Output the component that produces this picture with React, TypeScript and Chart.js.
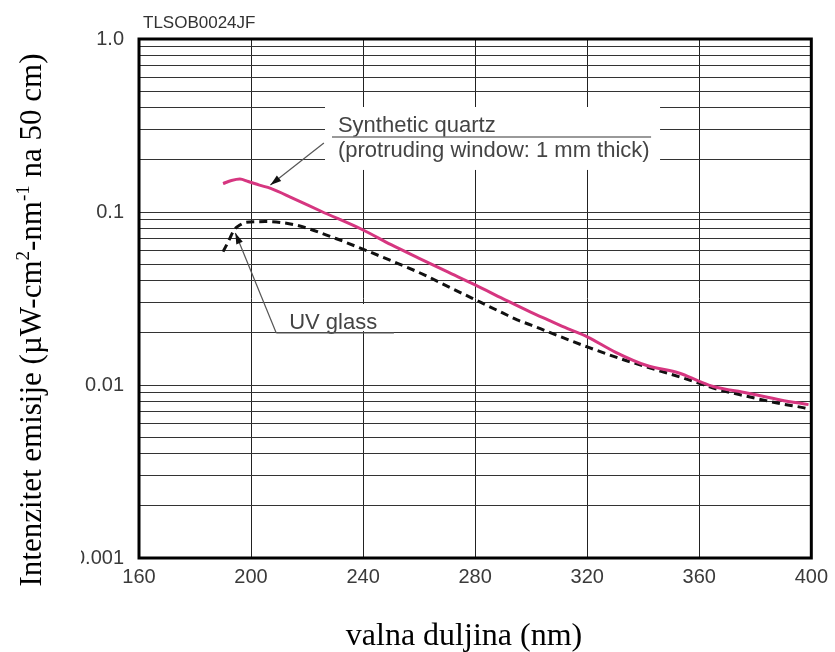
import React, { useEffect, useRef } from 'react';
import { Chart, registerables } from 'chart.js';

Chart.register(...registerables);

// ---- data ----
const quartzNm = [190, 193, 196, 199, 203, 207, 215, 225, 240, 250, 260, 270, 280, 290, 300, 306, 313, 320, 330, 341, 353, 360, 365, 377, 389, 399];
const quartzVal = [0.146, 0.152, 0.155, 0.150, 0.143, 0.137, 0.120, 0.101, 0.0787, 0.0647, 0.054, 0.0452, 0.0379, 0.0315, 0.0263, 0.0238, 0.0212, 0.019, 0.0155, 0.013, 0.0117, 0.0105, 0.0098, 0.009, 0.0082, 0.0077];

const uvNm = [190, 192, 194, 196, 198, 205, 216, 230, 241, 250, 262, 270, 279, 290, 295, 300, 306, 312, 320, 333, 345, 358, 365, 377, 389, 397, 400];
const uvVal = [0.059, 0.068, 0.079, 0.084, 0.087, 0.088, 0.084, 0.0705, 0.060, 0.0523, 0.0432, 0.0373, 0.0317, 0.026, 0.0238, 0.0222, 0.0203, 0.0186, 0.0166, 0.014, 0.0122, 0.0105, 0.0096, 0.0086, 0.0078, 0.0074, 0.0072];

const xMin = 160;
const xMax = 400;
const xStep = 40;
const yTickValues = [0.001, 0.01, 0.1, 1];
const yTickLabels = ['0.001', '0.01', '0.1', '1.0'];

const xTitle = 'valna duljina (nm)';
const yTitleParts: [string, boolean][] = [
  ['Intenzitet emisije (µW-cm', false],
  ['2', true],
  ['-nm', false],
  ['-1', true],
  [' na 50 cm)', false],
];
const codeLabel = 'TLSOB0024JF';
const quartzLabel = ['Synthetic quartz', '(protruding window: 1 mm thick)'];
const uvLabel = 'UV glass';

const SANS = '"Liberation Sans", Arial, Helvetica, sans-serif';
const SERIF = '"Liberation Serif", "Times New Roman", serif';

function allLogTicks(): number[] {
  const out: number[] = [];
  for (let e = -3; e < 0; e++) {
    for (let m = 1; m < 10; m++) out.push(+(m * Math.pow(10, e)).toPrecision(3));
  }
  out.push(1);
  return out;
}

function arrow(ctx: CanvasRenderingContext2D, x1: number, y1: number, x2: number, y2: number) {
  ctx.strokeStyle = '#555';
  ctx.lineWidth = 1.2;
  ctx.beginPath();
  ctx.moveTo(x1, y1);
  ctx.lineTo(x2, y2);
  ctx.stroke();
  const a = Math.atan2(y2 - y1, x2 - x1);
  const L = 11, W = 3.5;
  ctx.fillStyle = '#111';
  ctx.beginPath();
  ctx.moveTo(x2, y2);
  ctx.lineTo(x2 - L * Math.cos(a) + W * Math.sin(a), y2 - L * Math.sin(a) - W * Math.cos(a));
  ctx.lineTo(x2 - L * Math.cos(a) - W * Math.sin(a), y2 - L * Math.sin(a) + W * Math.cos(a));
  ctx.closePath();
  ctx.fill();
}

const decorPlugin = {
  id: 'decor',
  beforeDatasetsDraw(chart: any) {
    const { ctx, scales } = chart;
    const X = (v: number) => scales.x.getPixelForValue(v);
    const Y = (v: number) => scales.y.getPixelForValue(v);
    ctx.save();
    ctx.fillStyle = '#ffffff';
    // white box behind the quartz label
    ctx.fillRect(X(226.4), Y(0.4045), X(346.0) - X(226.4), Y(0.175) - Y(0.4045));
    // white box behind the UV glass label
    ctx.fillRect(X(211.1), Y(0.0294), X(252.6) - X(211.1), Y(0.0205) - Y(0.0294));
    ctx.restore();
  },
  afterDraw(chart: any) {
    const { ctx, scales, chartArea } = chart;
    const X = (v: number) => scales.x.getPixelForValue(v);
    const Y = (v: number) => scales.y.getPixelForValue(v);
    ctx.save();

    // frame
    ctx.strokeStyle = '#000';
    ctx.lineWidth = 3;
    ctx.strokeRect(chartArea.left, chartArea.top, chartArea.right - chartArea.left, chartArea.bottom - chartArea.top);

    // code label
    ctx.fillStyle = '#333';
    ctx.font = `17px ${SANS}`;
    ctx.textAlign = 'left';
    ctx.textBaseline = 'alphabetic';
    ctx.fillText(codeLabel, chartArea.left + 4, chartArea.top - 11);

    // quartz annotation
    ctx.fillStyle = '#444';
    ctx.font = `22px ${SANS}`;
    ctx.fillText(quartzLabel[0], X(231.0), Y(0.290));
    ctx.fillText(quartzLabel[1], X(231.0), Y(0.208));
    ctx.strokeStyle = '#777';
    ctx.lineWidth = 1.5;
    ctx.beginPath();
    ctx.moveTo(X(228.9), Y(0.2714));
    ctx.lineTo(X(342.8), Y(0.2714));
    ctx.stroke();
    arrow(ctx, X(226.0), Y(0.2506), X(206.9), Y(0.1432));

    // UV glass annotation
    ctx.fillStyle = '#444';
    ctx.font = `22px ${SANS}`;
    ctx.fillText(uvLabel, X(213.6), Y(0.0211));
    ctx.strokeStyle = '#555';
    ctx.lineWidth = 1.2;
    ctx.beginPath();
    ctx.moveTo(X(209.0), Y(0.02));
    ctx.lineTo(X(251.0), Y(0.02));
    ctx.stroke();
    arrow(ctx, X(209.0), Y(0.02), X(194.4), Y(0.0756));

    // y title (white box clips the leading digit of the lowest tick as in the source)
    ctx.fillStyle = '#fff';
    ctx.fillRect(0, 30, 81, 575);
    ctx.translate(31, 320);
    ctx.rotate(-Math.PI / 2);
    const mainFont = `31px ${SERIF}`;
    const supFont = `19px ${SERIF}`;
    let total = 0;
    for (const [t, sup] of yTitleParts) {
      ctx.font = sup ? supFont : mainFont;
      total += ctx.measureText(t).width;
    }
    let cx = -total / 2;
    ctx.fillStyle = '#000';
    ctx.textAlign = 'left';
    for (const [t, sup] of yTitleParts) {
      ctx.font = sup ? supFont : mainFont;
      ctx.fillText(t, cx, sup ? -2 : 10);
      cx += ctx.measureText(t).width;
    }
    ctx.setTransform(1, 0, 0, 1, 0, 0);
    const dpr = chart.currentDevicePixelRatio || 1;
    ctx.scale(dpr, dpr);

    // x title
    ctx.font = `32px ${SERIF}`;
    ctx.fillStyle = '#000';
    ctx.textAlign = 'center';
    ctx.textBaseline = 'alphabetic';
    ctx.fillText(xTitle, 464, 645);

    ctx.restore();
  },
};

export default function App() {
  const canvasRef = useRef<HTMLCanvasElement | null>(null);

  useEffect(() => {
    if (!canvasRef.current) return;
    const chart = new Chart(canvasRef.current, {
      type: 'line',
      data: {
        datasets: [
          {
            label: 'Synthetic quartz',
            data: quartzNm.map((x, i) => ({ x, y: quartzVal[i] })),
            borderColor: 'rgb(214, 54, 128)',
            borderWidth: 3,
            pointRadius: 0,
            tension: 0.35,
            cubicInterpolationMode: 'monotone',
            fill: false,
          },
          {
            label: 'UV glass',
            data: uvNm.map((x, i) => ({ x, y: uvVal[i] })),
            borderColor: '#111',
            borderWidth: 3,
            borderDash: [8, 5],
            pointRadius: 0,
            tension: 0.35,
            cubicInterpolationMode: 'monotone',
            fill: false,
          },
        ],
      },
      options: {
        animation: false,
        responsive: true,
        maintainAspectRatio: false,
        layout: { padding: { left: 0, right: 20, top: 39, bottom: 0 } },
        plugins: {
          legend: { display: false },
          tooltip: { enabled: false },
          title: { display: false },
        },
        scales: {
          x: {
            type: 'linear',
            min: xMin,
            max: xMax,
            afterFit: (s: any) => { s.height = 94; },
            ticks: {
              stepSize: xStep,
              padding: 7,
              color: '#3a3a3a',
              font: { family: SANS, size: 20 },
              maxRotation: 0,
            },
            grid: { color: '#222', lineWidth: 1, drawTicks: false },
            border: { display: false },
          },
          y: {
            type: 'logarithmic',
            min: 0.001,
            max: 1,
            afterFit: (s: any) => { s.width = 139; },
            afterBuildTicks: (s: any) => {
              s.ticks = allLogTicks().map((v) => ({ value: v }));
            },
            ticks: {
              autoSkip: false,
              padding: 15,
              color: '#3a3a3a',
              font: { family: SANS, size: 20 },
              callback: (value: any) => {
                const idx = yTickValues.findIndex((t) => Math.abs(t - Number(value)) < 1e-9);
                return idx >= 0 ? yTickLabels[idx] : '';
              },
            },
            grid: { color: '#333', lineWidth: 1, drawTicks: false },
            border: { display: false },
          },
        },
      } as any,
      plugins: [decorPlugin],
    });
    return () => chart.destroy();
  }, []);

  return (
    <div style={{ position: 'absolute', left: 0, top: 0, width: 835, height: 652, background: '#fff' }}>
      <canvas ref={canvasRef} />
    </div>
  );
}
